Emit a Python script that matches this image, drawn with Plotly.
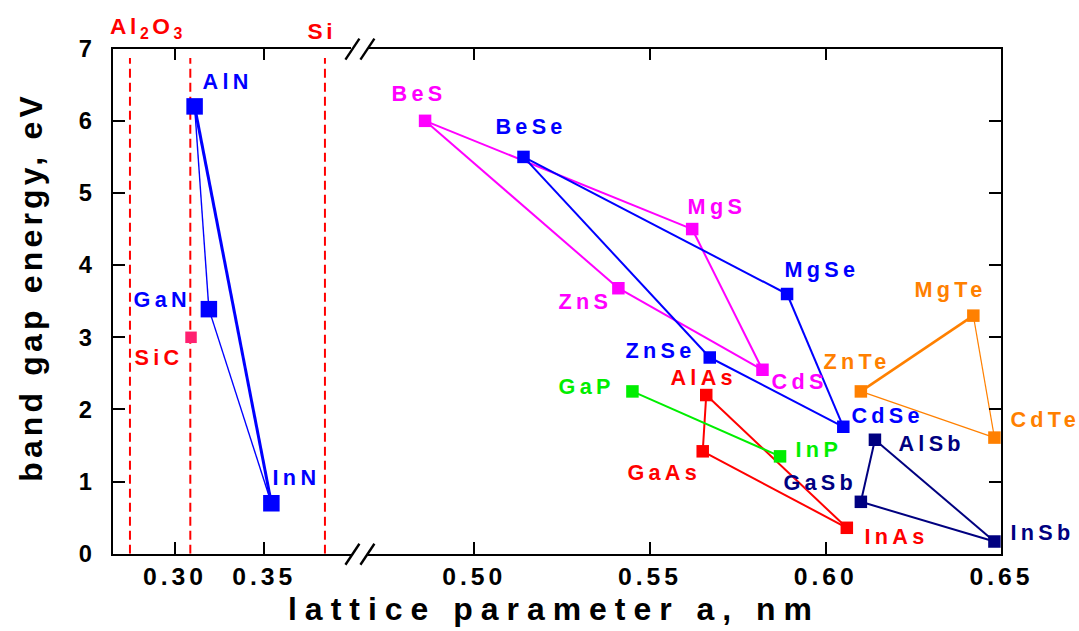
import json
import plotly.graph_objects as go

# ---------------- data: lattice parameter a (nm), band gap Eg (eV) ----------------
nitride_names = ["AlN", "GaN", "InN"]
nitride_a = [0.311, 0.319, 0.354]
nitride_eg = [6.20, 3.39, 0.70]

sic_names = ["SiC"]
sic_a = [0.309]
sic_eg = [3.00]

substrate_names = ["Al<sub>2</sub>O<sub>3</sub>", "", "Si"]
substrate_a = [0.2748, 0.3086, 0.3840]

sulfide_names = ["BeS", "MgS", "ZnS", "CdS"]
sulfide_a = [0.486, 0.562, 0.541, 0.582]
sulfide_eg = [6.00, 4.50, 3.68, 2.55]

selenide_names = ["BeSe", "MgSe", "ZnSe", "CdSe"]
selenide_a = [0.514, 0.589, 0.567, 0.605]
selenide_eg = [5.50, 3.60, 2.72, 1.76]

telluride_names = ["ZnTe", "MgTe", "CdTe"]
telluride_a = [0.610, 0.642, 0.648]
telluride_eg = [2.25, 3.30, 1.61]

arsenide_names = ["AlAs", "GaAs", "InAs"]
arsenide_a = [0.566, 0.565, 0.606]
arsenide_eg = [2.20, 1.42, 0.36]

phosphide_names = ["GaP", "InP"]
phosphide_a = [0.545, 0.587]
phosphide_eg = [2.25, 1.35]

antimonide_names = ["AlSb", "GaSb", "InSb"]
antimonide_a = [0.614, 0.610, 0.648]
antimonide_eg = [1.58, 0.72, 0.17]

y_tick_values = [0, 1, 2, 3, 4, 5, 6, 7]
x_tick_left = [0.30, 0.35]
x_tick_right = [0.50, 0.55, 0.60, 0.65]
x_tick_left_text = ["0.30", "0.35"]
x_tick_right_text = ["0.50", "0.55", "0.60", "0.65"]

# ---------------- page geometry ----------------
W, H = 1079, 631
# the page is captured slightly reduced; positions below are given in final
# picture pixels and converted to layout pixels with this affine map
SX, OX, SY, OY = 0.978, -1.0, 0.9605, 11.57
K = 1 / 0.97          # size compensation for fonts and markers


def lx(x):
    return (x - OX) / SX


def ly(y):
    return (y - OY) / SY


def px(x):
    return lx(x) / W


def py(y):
    return 1 - ly(y) / H


FONT = "Liberation Sans, Arial, Helvetica, sans-serif"
MAGENTA, BLUE, ORANGE = "#FF00FF", "#0000FF", "#FF8000"
RED, GREEN, NAVY, PINK = "#FF0000", "#00EE00", "#000080", "#FF2070"

# frame of the two panels (picture pixels)
LEFT_PX0, LEFT_PX1 = 111.7, 350.0
RIGHT_PX0, RIGHT_PX1 = 367.0, 1000.7
TOP_PX, BOT_PX = 47.3, 553.3

# (family, names, a, eg, color, marker size, panel, edges as (i, j, width))
families = [
    ("nitrides", nitride_names, nitride_a, nitride_eg, BLUE, 16.5, 1,
     [(0, 1, 1.4), (0, 2, 3.0), (1, 2, 1.4)]),
    ("SiC", sic_names, sic_a, sic_eg, PINK, 11.5, 1, []),
    ("sulfides", sulfide_names, sulfide_a, sulfide_eg, MAGENTA, 12.5, 2,
     [(0, 1, 2.0), (0, 2, 2.0), (2, 3, 2.0), (1, 3, 2.0)]),
    ("selenides", selenide_names, selenide_a, selenide_eg, BLUE, 12.5, 2,
     [(0, 1, 2.0), (0, 2, 2.0), (2, 3, 2.0), (1, 3, 2.0)]),
    ("tellurides", telluride_names, telluride_a, telluride_eg, ORANGE, 12.5, 2,
     [(0, 1, 2.6), (1, 2, 1.2), (0, 2, 1.2)]),
    ("arsenides", arsenide_names, arsenide_a, arsenide_eg, RED, 12.5, 2,
     [(0, 1, 2.0), (0, 2, 2.0), (1, 2, 2.0)]),
    ("phosphides", phosphide_names, phosphide_a, phosphide_eg, GREEN, 12.5, 2,
     [(0, 1, 2.0)]),
    ("antimonides", antimonide_names, antimonide_a, antimonide_eg, NAVY, 12.5, 2,
     [(0, 1, 2.0), (0, 2, 2.0), (1, 2, 2.0)]),
]

# label offsets from the marker centre, in picture pixels (right, down)
label_offset = {
    "AlN": (30, -24), "GaN": (-48, -9), "SiC": (-33, 19), "InN": (22, -25),
    "BeS": (-8, -26), "BeSe": (5, -29), "MgS": (22, -22), "MgSe": (32, -24),
    "ZnS": (-34, 13), "ZnSe": (-50, -7), "CdS": (34, 11), "CdSe": (41, -11),
    "ZnTe": (-6, -29), "MgTe": (-24, -25), "CdTe": (47, -17),
    "GaP": (-47, -5), "InP": (36, -7),
    "AlAs": (-5, -17), "GaAs": (-39, 20), "InAs": (46, 8),
    "AlSb": (53, 4), "GaSb": (-42, -19), "InSb": (45, -9),
}
label_color = {"SiC": RED}
LABEL_SIZE, LABEL_SPACING = 21 * K, 4.3

fig = go.Figure()

# substrate reference lines
for a in substrate_a:
    fig.add_trace(go.Scatter(
        x=[a, a], y=[0, 6.87], mode="lines", xaxis="x", yaxis="y",
        line=dict(color=RED, width=2, dash="9px,5px"), hoverinfo="skip"))

# tie lines between binary compounds
for fam, names, a, eg, color, msize, panel, edges in families:
    xa, ya = ("x", "y") if panel == 1 else ("x2", "y2")
    for i, j, w in edges:
        fig.add_trace(go.Scatter(
            x=[a[i], a[j]], y=[eg[i], eg[j]], mode="lines", xaxis=xa, yaxis=ya,
            line=dict(color=color, width=w), hoverinfo="skip"))

# compound markers
for fam, names, a, eg, color, msize, panel, edges in families:
    xa, ya = ("x", "y") if panel == 1 else ("x2", "y2")
    fig.add_trace(go.Scatter(
        x=a, y=eg, mode="markers", xaxis=xa, yaxis=ya, name=fam, text=names,
        marker=dict(symbol="square", size=msize, color=color, line=dict(width=0)),
        cliponaxis=False))

annotations = []
spacings = []

# compound labels
for fam, names, a, eg, color, msize, panel, edges in families:
    xa, ya = ("x", "y") if panel == 1 else ("x2", "y2")
    for n, xv, yv in zip(names, a, eg):
        dx, dy = label_offset[n]
        annotations.append(dict(
            x=xv, y=yv, xref=xa, yref=ya, text=n, showarrow=False,
            xanchor="center", yanchor="middle",
            xshift=dx / SX + LABEL_SPACING / 2, yshift=-dy / SY,
            font=dict(family=FONT, size=LABEL_SIZE, color=label_color.get(n, color),
                      weight="bold")))
        spacings.append(LABEL_SPACING)

# substrate labels above the frame (offsets from the line top, picture pixels)
sub_shift = {0: (18, -20), 2: (-3, -17)}
for k, (n, a) in enumerate(zip(substrate_names, substrate_a)):
    if not n:
        continue
    dx, dy = sub_shift[k]
    annotations.append(dict(
        x=a, y=7, xref="x", yref="y", text=n, showarrow=False,
        xshift=dx / SX, yshift=-dy / SY, xanchor="center", yanchor="middle",
        font=dict(family=FONT, size=22 * K, color=RED, weight="bold")))
    spacings.append(3.6)

# axis titles
annotations.append(dict(
    x=px(553), y=py(609), xref="paper", yref="paper", showarrow=False,
    xanchor="center", yanchor="middle",
    text="lattice parameter a, nm",
    font=dict(family=FONT, size=31 * K, color="black", weight="bold")))
spacings.append(8.0)
annotations.append(dict(
    x=px(30), y=py(285), xref="paper", yref="paper", showarrow=False,
    xanchor="center", yanchor="middle",
    text="band gap energy, eV", textangle=-90,
    font=dict(family=FONT, size=31 * K, color="black", weight="bold")))
spacings.append(4.2)

# axis-break marks
shapes = []
for y0, y1 in [(58.3, 37.3), (564.3, 543.3)]:
    for x0 in (344.5, 359.5):
        shapes.append(dict(type="line", xref="paper", yref="paper",
                           x0=px(x0), x1=px(x0 + 14), y0=py(y0), y1=py(y1),
                           line=dict(color="black", width=2.4)))

common_x = dict(showgrid=False, zeroline=False, showline=True, linewidth=2,
                linecolor="black", mirror="ticks", ticks="inside", ticklen=11.5,
                tickwidth=2, tickcolor="black", ticklabelstandoff=0,
                tickfont=dict(family=FONT, size=24 * K, color="black", weight="bold"))
common_y = dict(range=[0, 7], domain=[py(BOT_PX), py(TOP_PX)], showgrid=False,
                zeroline=False, showline=True, linewidth=2, linecolor="black",
                ticks="inside", ticklen=12.5, tickwidth=2, tickcolor="black",
                tickvals=y_tick_values)

# left panel x range from the frame (0.30 at 174.0 px, 0.35 at 263.3 px)
sL = (263.3 - 174.0) / 0.05
left_range = [0.30 - (174.0 - LEFT_PX0) / sL, 0.30 + (LEFT_PX1 - 174.0) / sL]
# right panel x range (0.50 at 473.4 px, 0.65 at 1000.7 px)
sR = (1000.7 - 473.4) / 0.15
right_range = [0.50 - (473.4 - RIGHT_PX0) / sR, 0.65]

fig.update_layout(
    width=W, height=H, autosize=False, margin=dict(l=0, r=0, t=0, b=0, pad=0),
    paper_bgcolor="white", plot_bgcolor="white", showlegend=False,
    xaxis=dict(domain=[px(LEFT_PX0), px(LEFT_PX1)], range=left_range, anchor="y",
               tickvals=x_tick_left, ticktext=x_tick_left_text, **common_x),
    xaxis2=dict(domain=[px(RIGHT_PX0), px(RIGHT_PX1)], range=right_range, anchor="y2",
                tickvals=x_tick_right, ticktext=x_tick_right_text, **common_x),
    yaxis=dict(anchor="x", side="left", mirror=False, ticklabelstandoff=14,
               tickfont=dict(family=FONT, size=23 * K, color="black", weight="bold"),
               **common_y),
    yaxis2=dict(anchor="x2", side="right", mirror=False, showticklabels=False,
                **common_y),
    annotations=annotations, shapes=shapes,
)

post = """
var gd = document.getElementById('{plot_id}');
var sp = %s;
gd.querySelectorAll('g.annotation').forEach(function(g){
  var i = +g.getAttribute('data-index');
  var t = g.querySelector('text.annotation-text');
  if (t && sp[i]) { t.style.letterSpacing = sp[i] + 'px'; }
});
gd.querySelectorAll('g.xaxislayer-above text').forEach(function(t){
  t.style.letterSpacing = '4px';
});
""" % json.dumps(spacings)

fig.write_html("out.html", post_script=post)
